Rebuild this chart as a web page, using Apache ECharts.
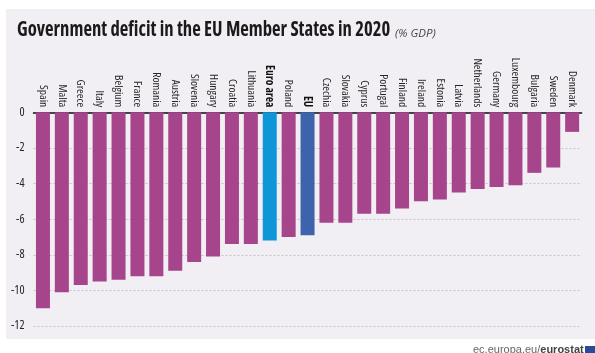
<!DOCTYPE html>
<html>
<head>
<meta charset="utf-8">
<style>html,body{margin:0;padding:0;background:#fff}#chart{width:595px;height:353px}</style>
<script src="https://cdn.jsdelivr.net/npm/echarts@6/dist/echarts.min.js"></script>
</head>
<body>
<div id="chart"></div>
<script>
const categories = ['Spain','Malta','Greece','Italy','Belgium','France','Romania','Austria','Slovenia','Hungary','Croatia','Lithuania','Euro area','Poland','EU','Czechia','Slovakia','Cyprus','Portugal','Finland','Ireland','Estonia','Latvia','Netherlands','Germany','Luxembourg','Bulgaria','Sweden','Denmark'];
const deficit = [-11.0,-10.1,-9.7,-9.5,-9.4,-9.2,-9.2,-8.9,-8.4,-8.1,-7.4,-7.4,-7.2,-7.0,-6.9,-6.2,-6.2,-5.7,-5.7,-5.4,-5.0,-4.9,-4.5,-4.3,-4.2,-4.1,-3.4,-3.1,-1.1];
const aggregateColours = {'Euro area':'#0e96d8','EU':'#3e63ad'};
const memberColour = '#a6458b';
const body = '"Open Sans","Liberation Sans",sans-serif';
const plain = '"Liberation Sans",sans-serif';
const labelColour = '#262626';

const chart = echarts.init(document.getElementById('chart'), null, {renderer:'canvas'});
chart.setOption({
  animation:false,
  backgroundColor:'#ffffff',
  graphic:[
    {type:'rect',z:-10,silent:true,shape:{x:6,y:9,width:589,height:330},style:{fill:'#f1eff3'}},
    // Heading squeezed horizontally to fit the narrow display face
    {type:'text',x:17,y:20,scaleX:0.91,silent:true,style:{
      text:'Government deficit in the EU Member States in 2020',
      font:'bold condensed 20.5px "Open Sans","Liberation Sans",sans-serif',fill:'#1a1a1a'
    }},
    {type:'text',x:395,y:28,silent:true,style:{
      text:'(% GDP)',font:'italic 11.5px "Open Sans","Liberation Sans",sans-serif',fill:'#444'
    }},
    {type:'text',left:473,top:344,style:{
      rich:{a:{fontFamily:plain,fontSize:11,fill:'#666'},b:{fontFamily:plain,fontSize:11,fontWeight:'bold',fill:'#444'}},
      text:'{a|ec.europa.eu/}{b|eurostat}'
    }},
    {type:'rect',silent:true,shape:{x:585,y:346,width:10,height:7},style:{fill:'#2b4a9b'}}
  ],
  grid:{left:33.5,right:13.4,top:112.3,height:213.7},
  xAxis:{
    type:'category',position:'top',data:categories,
    axisLine:{show:true,onZero:false,lineStyle:{color:'#111',width:1.5}},
    axisTick:{show:false},
    axisLabel:{
      interval:0,rotate:90,margin:5,fontFamily:body,fontSize:11.5,fontWeight:'condensed',color:labelColour,
      formatter:v=>aggregateColours[v]?`{strong|${v}}`:v,
      rich:{strong:{fontFamily:body,fontSize:11.5,fontWeight:'bold condensed',color:'#111'}}
    }
  },
  yAxis:{
    type:'value',min:-12,max:0,interval:2,
    axisLine:{show:false},axisTick:{show:false},
    axisLabel:{margin:9,fontFamily:body,fontSize:12,fontWeight:'condensed',color:labelColour},
    splitLine:{show:true,lineStyle:{color:'#c4c2c6',width:1,type:[2,2]}}
  },
  series:[{
    type:'bar',barWidth:14,
    data:deficit.map((v,i)=>({value:v,itemStyle:{color:aggregateColours[categories[i]]||memberColour}}))
  }]
});
</script>
</body>
</html>
